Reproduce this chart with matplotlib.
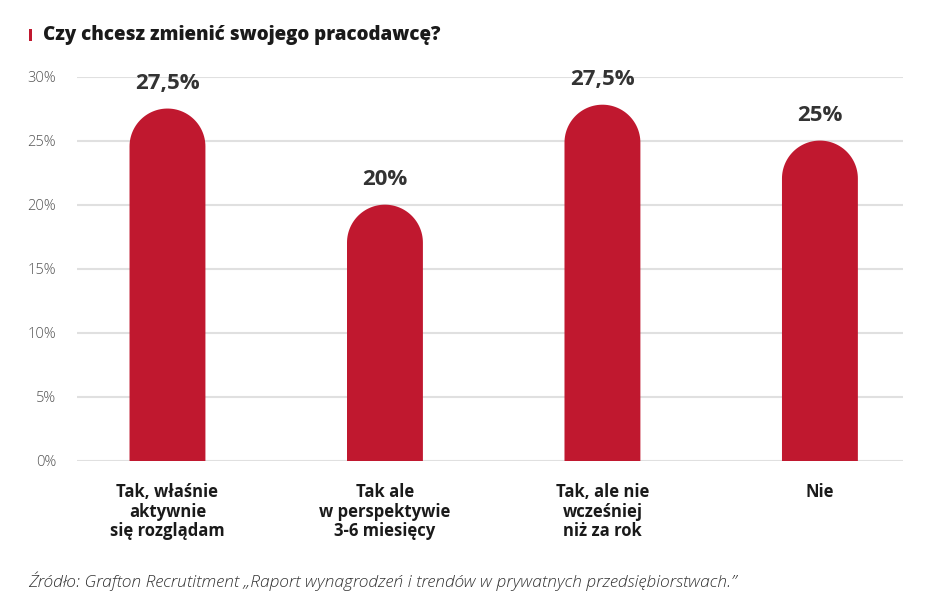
import matplotlib
matplotlib.use("Agg")
import matplotlib.pyplot as plt
import numpy as np
from matplotlib.patches import Rectangle, PathPatch
from matplotlib.path import Path

categories = ["Tak, właśnie\naktywnie\nsię rozglądam",
              "Tak ale\nw perspektywie\n3-6 miesięcy",
              "Tak, ale nie\nwcześniej\nniż za rok",
              "Nie"]
values = [27.5, 20.0, 27.8, 25.0]
value_labels = ["27,5%", "20%", "27,5%", "25%"]
yticks = [0, 5, 10, 15, 20, 25, 30]
ytick_labels = ["0%", "5%", "10%", "15%", "20%", "25%", "30%"]
title = "Czy chcesz zmienić swojego pracodawcę?"
source = "Źródło: Grafton Recrutitment „Raport wynagrodzeń i trendów w prywatnych przedsiębiorstwach.”"

W, H = 941, 614
fig = plt.figure(figsize=(W/100, H/100), dpi=100)
ax_l, ax_r, ax_t, ax_b = 77, 903, 76.5, 461
ax = fig.add_axes([ax_l/W, 1-ax_b/H, (ax_r-ax_l)/W, (ax_b-ax_t)/H])
xmin, xmax = -0.416, 3.382
ax.set_xlim(xmin, xmax)
ax.set_ylim(0, 30)

red = "#C0182F"
bw = 0.349
px_per_x = (ax_r-ax_l)/(xmax-xmin)
px_per_y = (ax_b-ax_t)/30
r_px = bw*px_per_x/2
r_y = r_px/px_per_y

bold_fam = ['Open Sans', 'DejaVu Sans']
for i, v in enumerate(values):
    t = np.linspace(np.pi, 0, 60)
    cy = v - r_y
    xs = np.concatenate([[i-bw/2], i + bw/2*np.cos(t), [i+bw/2, i-bw/2]])
    ys = np.concatenate([[0], cy + r_y*np.sin(t), [0, 0]])
    verts = np.column_stack([xs, ys])
    codes = [Path.MOVETO] + [Path.LINETO]*(len(verts)-2) + [Path.CLOSEPOLY]
    ax.add_patch(PathPatch(Path(verts, codes), facecolor=red, edgecolor='none', zorder=3))
    ax.annotate(value_labels[i], (i, v), xytext=(0, 14), textcoords='offset points',
                ha='center', va='baseline', fontsize=16, fontweight='bold',
                color='#333333', family=bold_fam, annotation_clip=False)

ax.set_yticks(yticks)
ax.set_yticklabels(ytick_labels, fontsize=10.5, color='#555555',
                   family=['Open Sans', 'DejaVu Sans'], fontweight='light')
ax.tick_params(axis='y', length=0, pad=15)
ax.grid(axis='y', color='#e0e0e0', linewidth=1.5, zorder=0)
ax.set_axisbelow(True)
ax.set_xticks(range(len(categories)))
ax.set_xticklabels(categories, fontsize=12, fontweight='bold', color='#1a1a1a',
                   family=['Open Sans', 'DejaVu Sans'], fontstretch='condensed',
                   linespacing=1.1, va='top')
ax.tick_params(axis='x', length=0, pad=16)
for s in ax.spines.values():
    s.set_visible(False)

fig.patches.append(Rectangle((29/W, 1-41/H), 3/W, 12/H, transform=fig.transFigure,
                             facecolor=red, edgecolor='none'))
fig.text(43/W, 1-35/H, title, fontsize=13.5, fontweight=800, color='#1a1a1a',
         family=bold_fam, va='center', ha='left')
fig.text(28/W, 1-581/H, source, fontsize=12.5, style='italic', color='#333333',
         family=['Open Sans', 'DejaVu Sans'], fontweight='light',
         va='center', ha='left')

fig.savefig("out.png", dpi=100)
